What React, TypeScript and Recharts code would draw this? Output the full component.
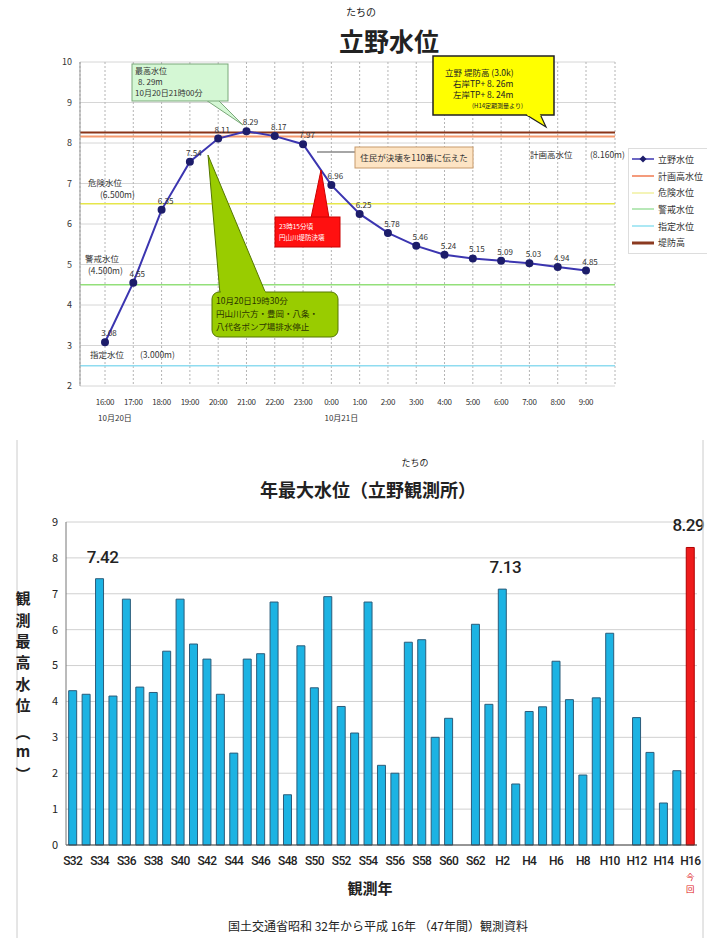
import React from 'react';
import {
  LineChart, Line, XAxis, YAxis, CartesianGrid, ReferenceLine, Legend, LabelList,
  BarChart, Bar, Cell,
} from 'recharts';

const JP = '"Noto Sans CJK JP", "Noto Sans", sans-serif';

// hourly water level at Tateno, 10/20 16:00 -> 10/21 9:00
const hours = ['16:00', '17:00', '18:00', '19:00', '20:00', '21:00', '22:00', '23:00', '0:00',
  '1:00', '2:00', '3:00', '4:00', '5:00', '6:00', '7:00', '8:00', '9:00'];
const tateno = [3.08, 4.55, 6.35, 7.54, 8.11, 8.29, 8.17, 7.97, 6.96, 6.25, 5.78, 5.46,
  5.24, 5.15, 5.09, 5.03, 4.94, 4.85];
const dateHours = ['16:00', '0:00'];
const dateNames = ['10月20日', '10月21日'];

// reference levels
const refNames = ['計画高水位', '危険水位', '警戒水位', '指定水位', '堤防高'];
const refValues = [8.16, 6.5, 4.5, 2.5, 8.26];
const refColors = ['#f59a6e', '#e6e64a', '#93e07a', '#8fdcf0', '#8a3418'];
const refWidths = [2, 1.5, 1.5, 1.5, 2];

const legendNames = ['立野水位', ...refNames];
const legendColors = ['#3b35b0', '#f07a50', '#f0f0a0', '#a0e0a0', '#90e0f0', '#8b3a20'];

// yearly max water level
const years = ['S32', 'S33', 'S34', 'S35', 'S36', 'S37', 'S38', 'S39', 'S40', 'S41', 'S42', 'S43',
  'S44', 'S45', 'S46', 'S47', 'S48', 'S49', 'S50', 'S51', 'S52', 'S53', 'S54', 'S55', 'S56',
  'S57', 'S58', 'S59', 'S60', 'S61', 'S62', 'S63', 'H2', 'H3', 'H4', 'H5', 'H6', 'H7', 'H8',
  'H9', 'H10', 'H11', 'H12', 'H13', 'H14', 'H15', 'H16'];
const maxLevels = [4.3, 4.2, 7.42, 4.15, 6.85, 4.4, 4.25, 5.4, 6.85, 5.6, 5.18, 4.2, 2.56,
  5.18, 5.33, 6.77, 1.4, 5.55, 4.38, 6.92, 3.86, 3.12, 6.77, 2.22, 2.0, 5.65, 5.72, 3.0, 3.53,
  null, 6.15, 3.92, 7.13, 1.7, 3.72, 3.85, 5.12, 4.05, 1.95, 4.1, 5.9, null, 3.55, 2.58, 1.17,
  2.07, 8.29];
const peakLevels = [7.42, 7.13, 8.29];

const hourData = hours.map((h, i) => ({ hour: h, level: tateno[i] }));
const yearData = years.map((y, i) => ({ year: y, level: maxLevels[i] }));

const HourTick = (props: any) => {
  const { x, y, payload } = props;
  const di = dateHours.indexOf(payload.value);
  return (
    <g>
      <text x={x} y={y + 11} textAnchor="middle" fontSize={8} fill="#333" letterSpacing={-0.3}>
        {payload.value}
      </text>
      {di >= 0 && (
        <text x={x + 10} y={y + 27} textAnchor="middle" fontSize={8} fill="#333">
          {dateNames[di]}
        </text>
      )}
    </g>
  );
};

const YearTick = (props: any) => {
  const { x, y, payload } = props;
  const last = payload.value === years[years.length - 1];
  return (
    <g>
      <text x={x} y={y + 12} textAnchor="middle" fontSize={12} fontWeight={500}
        fill="#222" letterSpacing={-0.7} fontFamily="Roboto">
        {payload.value}
      </text>
      {last && (
        <g fontSize={8.5} fill="#e02020" textAnchor="middle">
          <text x={x} y={y + 27}>今</text>
          <text x={x} y={y + 39}>回</text>
        </g>
      )}
    </g>
  );
};

const pointLabel = (props: any) => {
  const vb = props.viewBox || {};
  const x = Number(props.x ?? vb.x);
  const y = Number(props.y ?? vb.y);
  return (
    <text x={x + 4} y={y - 6} textAnchor="middle" fontSize={8} fill="#333">
      {props.value}
    </text>
  );
};

const peakLabel = (props: any) => {
  if (!peakLevels.includes(props.value)) return null;
  const vb = props.viewBox || {};
  const x = Number(props.x ?? vb.x);
  const y = Number(props.y ?? vb.y);
  const w = Number(props.width ?? vb.width ?? 0);
  const last = props.value === maxLevels[maxLevels.length - 1];
  return (
    <text x={x + w / 2 + (last ? -2 : 3)} y={y - 16} textAnchor="middle" fontSize={17} fontWeight={500}
      fill="#222" fontFamily="Roboto" letterSpacing={-0.5}>
      {props.value.toFixed(2)}
    </text>
  );
};

const legendBox = () => (
  <div style={{ border: '1px solid #ddd', background: '#fff', padding: '2px 0 2px 3px', fontFamily: JP }}>
    {legendNames.map((n, i) => (
      <div key={n} style={{ display: 'flex', alignItems: 'center', height: 16.7 }}>
        <svg width={22} height={10}>
          <line x1={0} y1={5} x2={22} y2={5} stroke={legendColors[i]} strokeWidth={i === 5 ? 3 : 1.5} />
          {i === 0 && <polygon points="11,1.5 14.5,5 11,8.5 7.5,5" fill="#1d1d6a" />}
        </svg>
        <span style={{ marginLeft: 4, fontSize: 9, color: '#333' }}>{n}</span>
      </div>
    ))}
  </div>
);

const Overlay = () => (
  <svg width={707} height={938} style={{ position: 'absolute', left: 0, top: 0, pointerEvents: 'none' }}
    fontFamily={JP}>
    {/* top chart titles */}
    <text x={361} y={16} fontSize={10} textAnchor="middle" fill="#222">たちの</text>
    <text x={389} y={51} fontSize={25} fontWeight={700} textAnchor="middle" fill="#222">立野水位</text>

    {/* level labels */}
    <g fontSize={8.5} fill="#333">
      <text x={88} y={186}>危険水位</text>
      <text x={100} y={198}>(6.500m)</text>
      <text x={85} y={262}>警戒水位</text>
      <text x={88} y={274}>(4.500m)</text>
      <text x={90} y={358}>指定水位</text>
      <text x={140} y={358}>(3.000m)</text>
      <text x={530} y={158}>計画高水位</text>
      <text x={590} y={158}>(8.160m)</text>
    </g>

    {/* max level callout */}
    <polygon points="206,100 218,100 243,125" fill="#d4f7d4" stroke="#7aa87a" />
    <rect x={132} y={64} width={96} height={37} fill="#d4f7d4" stroke="#7aa87a" />
    <g fontSize={8} fill="#333">
      <text x={135} y={74}>最高水位</text>
      <text x={138} y={85}>8. 29m</text>
      <text x={135} y={96}>10月20日21時00分</text>
    </g>

    {/* levee height callout */}
    <polygon points="525,114 540,114 546,127" fill="#ffff00" stroke="#222" strokeWidth={1.2} />
    <rect x={433} y={56} width={121} height={59} fill="#ffff00" stroke="#222" strokeWidth={1.5} />
    <polygon points="526,113 539,113 541,116 528,116" fill="#ffff00" />
    <g fontSize={8.5} fill="#222">
      <text x={445} y={76}>立野 堤防高 (3.0k)</text>
      <text x={453} y={87}>右岸TP+ 8. 26m</text>
      <text x={453} y={98}>左岸TP+ 8. 24m</text>
      <text x={472} y={108} fontSize={6}>(H14定期測量より)</text>
    </g>

    {/* residents callout */}
    <line x1={317} y1={152} x2={355} y2={152} stroke="#888" strokeWidth={1.5} />
    <rect x={355} y={147} width={118} height={21} fill="#fde4c4" stroke="#c79a6a" />
    <text x={414} y={161} fontSize={8.5} textAnchor="middle" fill="#333">住民が決壊を110番に伝えた</text>

    {/* levee break callout */}
    <polygon points="311,218 329,218 321,170" fill="#ff1010" stroke="#cc0000" />
    <rect x={275} y={217} width={65} height={30} fill="#ff1010" stroke="#cc0000" />
    <g fontSize={6.5} fill="#fff">
      <text x={279} y={229}>23時15分頃</text>
      <text x={279} y={240}>円山川堤防決壊</text>
    </g>

    {/* pump stop callout */}
    <polygon points="208,155 266,294 220,294" fill="#99cc00" stroke="#557700" />
    <rect x={212} y={292} width={126} height={45} rx={7} fill="#99cc00" stroke="#557700" />
    <polygon points="221,291 265,291 266,296 220,296" fill="#99cc00" />
    <g fontSize={8.5} fill="#2a3300">
      <text x={216} y={304}>10月20日19時30分</text>
      <text x={216} y={317}>円山川六方・豊岡・八条・</text>
      <text x={216} y={330}>八代各ポンプ場排水停止</text>
    </g>

    {/* bottom chart frame & texts */}
    <line x1={17} y1={440} x2={17} y2={938} stroke="#ccc" />
    <line x1={703} y1={440} x2={703} y2={938} stroke="#ccc" />
    <text x={415} y={466} fontSize={9} textAnchor="middle" fill="#222">たちの</text>
    <text x={368} y={497} fontSize={18} fontWeight={700} textAnchor="middle" fill="#222">年最大水位（立野観測所）</text>
    <g fontSize={15} fontWeight={700} fill="#222" textAnchor="middle">
      <text x={23} y={604}>観</text>
      <text x={23} y={626}>測</text>
      <text x={23} y={647}>最</text>
      <text x={23} y={668}>高</text>
      <text x={23} y={690}>水</text>
      <text x={23} y={711}>位</text>
      <text x={23} y={738}>︵</text>
      <text x={23} y={757}>m</text>
      <text x={23} y={780}>︶</text>
    </g>
    <text x={370} y={894} fontSize={15} fontWeight={700} textAnchor="middle" fill="#222">観測年</text>
    <text x={378} y={931} fontSize={12} textAnchor="middle" fill="#222">国土交通省昭和 32年から平成 16年 （47年間）観測資料</text>
  </svg>
);

export default function App() {
  return (
    <div style={{ position: 'absolute', left: 0, top: 0, width: 707, height: 938, background: '#fff', fontFamily: JP }}>
      <div style={{ position: 'absolute', left: 0, top: 0 }}>
        <LineChart width={707} height={430} data={hourData} margin={{ top: 62, right: 92, bottom: 6, left: 30 }}>
          <CartesianGrid vertical={false} stroke="#d6d6d6" />
          <CartesianGrid horizontal={false} stroke="#b4b4b4" strokeDasharray="2 2" />
          <XAxis dataKey="hour" scale="point" padding={{ left: 25, right: 29 }} height={38}
            interval={0} tick={<HourTick />} tickLine={false} axisLine={false} />
          <YAxis domain={[2, 10]} ticks={[2, 3, 4, 5, 6, 7, 8, 9, 10]} width={50}
            tick={{ fontSize: 9, fill: '#333' }} axisLine={{ stroke: '#999' }} tickLine={false} />
          {refValues.map((v, i) => (
            <ReferenceLine key={refNames[i]} y={v} stroke={refColors[i]} strokeWidth={refWidths[i]} />
          ))}
          <Line dataKey="level" stroke="#3b35b0" strokeWidth={2} isAnimationActive={false}
            dot={{ r: 3, fill: '#1d1d6a', stroke: '#1d1d6a' }}>
            <LabelList dataKey="level" content={pointLabel} />
          </Line>
          <Legend layout="vertical" align="center" verticalAlign="middle" content={legendBox}
            wrapperStyle={{ position: 'absolute', left: 628, top: 148, width: 82 }} />
        </LineChart>
      </div>
      <div style={{ position: 'absolute', left: 0, top: 440 }}>
        <BarChart width={707} height={498} data={yearData} margin={{ top: 82, right: 10, bottom: 0, left: 46 }}
          barCategoryGap="20%">
          <CartesianGrid vertical={false} stroke="#d0d0d0" />
          <XAxis dataKey="year" interval={1} height={93} tick={<YearTick />} tickLine={false}
            axisLine={{ stroke: '#444' }} />
          <YAxis domain={[0, 9]} ticks={[0, 1, 2, 3, 4, 5, 6, 7, 8, 9]} width={20}
            tick={{ fontSize: 11, fill: '#222' }} axisLine={{ stroke: '#777' }} tickLine={false} />
          <Bar dataKey="level" stroke="#2b5c7a" strokeWidth={1} isAnimationActive={false}>
            {yearData.map((d, i) => (
              <Cell key={d.year} fill={i === yearData.length - 1 ? '#ee1c1c' : '#1cb3e3'}
                stroke={i === yearData.length - 1 ? '#b00000' : '#2b5c7a'} />
            ))}
            <LabelList dataKey="level" content={peakLabel} />
          </Bar>
        </BarChart>
      </div>
      <Overlay />
    </div>
  );
}
